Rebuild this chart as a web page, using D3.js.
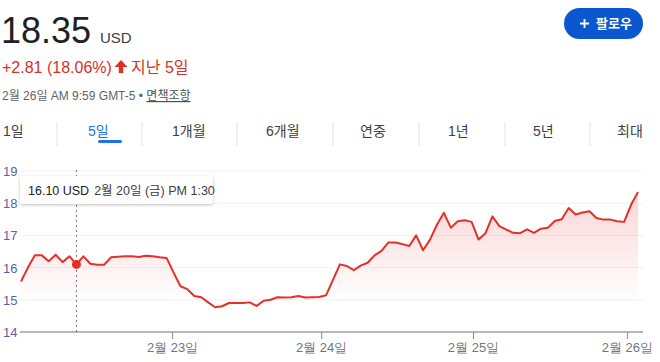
<!DOCTYPE html>
<html>
<head>
<meta charset="utf-8">
<script src="https://cdn.jsdelivr.net/npm/d3@7"></script>
<style>
  html, body { margin: 0; padding: 0; background: #fff; }
  svg { display: block; font-family: Arial, "Liberation Sans", "Noto Sans CJK KR", sans-serif; }
</style>
</head>
<body>
<div id="vis"></div>
<script>
// price values (USD), evenly spaced samples over the 5 days
const prices = [
  15.57, 16.00, 16.38, 16.38, 16.20, 16.40, 16.17, 16.35, 16.10, 16.35,
  16.12, 16.09, 16.09, 16.32, 16.34, 16.35, 16.35, 16.33, 16.37, 16.35,
  16.32, 16.30, 15.85, 15.42, 15.33, 15.12, 15.08, 14.92, 14.77, 14.80,
  14.90, 14.90, 14.90, 14.92, 14.81, 14.97, 15.00, 15.08, 15.07, 15.08,
  15.12, 15.07, 15.08, 15.09, 15.14, 15.62, 16.10, 16.05, 15.92, 16.06,
  16.15, 16.38, 16.52, 16.78, 16.78, 16.73, 16.67, 17.00, 16.54, 16.87,
  17.33, 17.70, 17.24, 17.44, 17.47, 17.42, 16.87, 17.07, 17.59, 17.29,
  17.18, 17.08, 17.07, 17.19, 17.08, 17.21, 17.24, 17.45, 17.50, 17.85,
  17.65, 17.71, 17.75, 17.54, 17.49, 17.49, 17.44, 17.42, 17.95, 18.35
];

// y axis ticks
const priceTicks = [14, 15, 16, 17, 18, 19];

// day boundaries (position in sample index) and their labels
const dayTickIdx = [21.8, 43.3, 65.2, 87.4];
const dayLabels = ["2월 23일", "2월 24일", "2월 25일", "2월 26일"];

// range tabs
const tabs = ["1일", "5일", "1개월", "6개월", "연중", "1년", "5년", "최대"];
const tabX = [3, 88, 172, 266, 360, 448, 533, 617];
const sepX = [57, 142, 237, 333, 419, 505, 590];
const activeTab = 1;

// hovered point
const hoverIdx = 8;
const hoverText = ["16.10 USD", "2월 20일 (금) PM 1:30"];

const W = 660, H = 362;
const red = "#e5302a";

const svg = d3.select("#vis")
  .append("svg")
  .attr("width", W)
  .attr("height", H);

// ---- header ----
svg.append("text")
  .attr("x", 1)
  .attr("y", 43)
  .attr("font-size", "36px")
  .attr("fill", "#202124")
  .text(prices[prices.length - 1].toFixed(2));

svg.append("text")
  .attr("x", 100)
  .attr("y", 43)
  .attr("font-size", "15px")
  .attr("fill", "#3c4043")
  .text("USD");

svg.append("text")
  .attr("x", 2)
  .attr("y", 73)
  .attr("font-size", "16px")
  .attr("fill", "#d93025")
  .text("+2.81 (18.06%)");

// up arrow
svg.append("path")
  .attr("d", "M121,60 L127.5,67 L123.2,67 L123.2,73 L118.8,73 L118.8,67 L114.5,67 Z")
  .attr("fill", "#d93025");

svg.append("text")
  .attr("x", 131)
  .attr("y", 73)
  .attr("font-size", "16px")
  .attr("fill", "#d93025")
  .text("지난 5일");

const info = svg.append("text")
  .attr("x", 2)
  .attr("y", 100)
  .attr("font-size", "12px")
  .attr("fill", "#5f6368");
info.append("tspan").text("2월 26일 AM 9:59 GMT-5 • ");
info.append("tspan")
  .attr("text-decoration", "underline")
  .attr("fill", "#4d5156")
  .text("면책조항");

// follow button
const btn = svg.append("g").attr("transform", "translate(564, 8)");
btn.append("rect")
  .attr("width", 79)
  .attr("height", 31)
  .attr("rx", 15.5)
  .attr("fill", "#0b57d0");
btn.append("path")
  .attr("d", "M16,15.5 H25 M20.5,11 V20")
  .attr("stroke", "#fff")
  .attr("stroke-width", 1.8);
btn.append("text")
  .attr("x", 32)
  .attr("y", 20)
  .attr("font-size", "13px")
  .attr("font-weight", "bold")
  .attr("fill", "#fff")
  .text("팔로우");

// ---- tabs ----
tabs.forEach((t, i) => {
  svg.append("text")
    .attr("x", tabX[i])
    .attr("y", 136)
    .attr("font-size", "14px")
    .attr("fill", i === activeTab ? "#1a73e8" : "#3c4043")
    .text(t);
});
svg.selectAll(".sep")
  .data(sepX)
  .enter()
  .append("line")
  .attr("x1", d => d).attr("x2", d => d)
  .attr("y1", 122).attr("y2", 146)
  .attr("stroke", "#e3e3e3");
svg.append("rect")
  .attr("x", 98)
  .attr("y", 140)
  .attr("width", 24)
  .attr("height", 3)
  .attr("rx", 1.5)
  .attr("fill", "#1a73e8");

// ---- chart ----
const x = d3.scaleLinear()
  .domain([0, prices.length - 1])
  .range([21, 638]);

const y = d3.scaleLinear()
  .domain([14, 19])
  .range([332, 171]);

const chart = svg.append("g");

// gridlines
chart.selectAll(".grid")
  .data(priceTicks.filter(d => d > 14))
  .enter()
  .append("line")
  .attr("x1", 20).attr("x2", 643)
  .attr("y1", d => y(d)).attr("y2", d => y(d))
  .attr("stroke", "#f1f1f1");

// y labels
chart.selectAll(".ylab")
  .data(priceTicks)
  .enter()
  .append("text")
  .attr("x", 3)
  .attr("y", d => y(d) + 5)
  .attr("font-size", "13px")
  .attr("fill", "#5c62a8")
  .text(d => d);

// area gradient
const defs = svg.append("defs");
const grad = defs.append("linearGradient")
  .attr("id", "areaGrad")
  .attr("gradientUnits", "userSpaceOnUse")
  .attr("x1", 0).attr("x2", 0)
  .attr("y1", y(d3.max(prices))).attr("y2", y(14.9));
grad.append("stop").attr("offset", "0%").attr("stop-color", red).attr("stop-opacity", 0.2);
grad.append("stop").attr("offset", "100%").attr("stop-color", red).attr("stop-opacity", 0);

chart.append("path")
  .datum(prices)
  .attr("fill", "url(#areaGrad)")
  .attr("d", d3.area()
    .x((d, i) => x(i))
    .y0(y(14))
    .y1(d => y(d)));

// x axis
const xAxis = chart.append("g")
  .attr("transform", `translate(0, ${y(14)})`)
  .call(d3.axisBottom(x)
    .tickValues(dayTickIdx)
    .tickFormat((d, i) => dayLabels[i])
    .tickSize(7));
xAxis.select(".domain").remove();
xAxis.selectAll(".tick line").attr("stroke", "#80868b");
xAxis.selectAll(".tick text")
  .attr("y", 11)
  .attr("font-family", null)
  .attr("font-size", "13px")
  .attr("fill", "#70757a");

chart.append("line")
  .attr("x1", 20).attr("x2", 643)
  .attr("y1", y(14)).attr("y2", y(14))
  .attr("stroke", "#9aa0a6")
  .attr("stroke-width", 1.5);

// hover guide
chart.append("line")
  .attr("x1", x(hoverIdx)).attr("x2", x(hoverIdx))
  .attr("y1", 170).attr("y2", y(14))
  .attr("stroke", "#777")
  .attr("stroke-dasharray", "2,3");

// price line
chart.append("path")
  .datum(prices)
  .attr("fill", "none")
  .attr("stroke", red)
  .attr("stroke-width", 2)
  .attr("stroke-linejoin", "round")
  .attr("d", d3.line()
    .x((d, i) => x(i))
    .y(d => y(d)));

chart.append("circle")
  .attr("cx", x(hoverIdx))
  .attr("cy", y(prices[hoverIdx]))
  .attr("r", 4.5)
  .attr("fill", red);

// tooltip
const shadow = defs.append("filter")
  .attr("id", "shadow")
  .attr("x", "-10%").attr("y", "-30%")
  .attr("width", "120%").attr("height", "170%");
shadow.append("feDropShadow")
  .attr("dx", 0).attr("dy", 1)
  .attr("stdDeviation", 1.5)
  .attr("flood-color", "#000")
  .attr("flood-opacity", 0.25);

const tip = chart.append("g").attr("transform", "translate(20, 176)");
tip.append("rect")
  .attr("width", 193)
  .attr("height", 28)
  .attr("rx", 3)
  .attr("fill", "#fff")
  .attr("filter", "url(#shadow)");
const tipText = tip.append("text")
  .attr("x", 8)
  .attr("y", 18.5)
  .attr("font-size", "12.5px");
tipText.append("tspan").attr("fill", "#202124").text(hoverText[0]);
tipText.append("tspan").attr("fill", "#3c4043").attr("dx", 5).text(hoverText[1]);
</script>
</body>
</html>
